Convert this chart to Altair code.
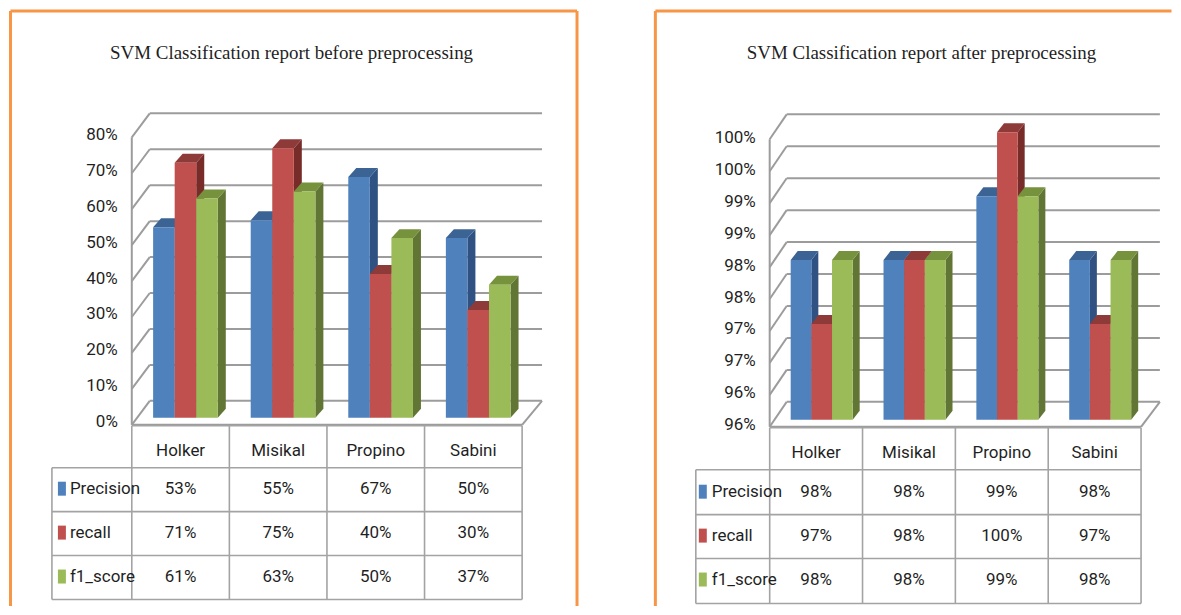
import altair as alt
import pandas as pd

categories = ["Holker", "Misikal", "Propino", "Sabini"]
series_names = ["Precision", "recall", "f1_score"]
before_precision = [53, 55, 67, 50]
before_recall = [71, 75, 40, 30]
before_f1 = [61, 63, 50, 37]
after_precision = [98, 98, 99, 98]
after_recall = [97, 98, 100, 97]
after_f1 = [98, 98, 99, 98]
before_ticks = [0, 10, 20, 30, 40, 50, 60, 70, 80]
before_tick_labels = ["0%", "10%", "20%", "30%", "40%", "50%", "60%", "70%", "80%"]
after_ticks = [95.5, 96, 96.5, 97, 97.5, 98, 98.5, 99, 99.5, 100]
after_tick_labels = ["96%", "96%", "97%", "97%", "98%", "98%", "99%", "99%", "100%", "100%"]
front_colors = ["#4F81BD", "#C0504D", "#9BBB59"]
top_colors = ["#3B6494", "#8E3A38", "#76923C"]
side_colors = ["#2F5283", "#772C2A", "#617534"]

SANS = "Roboto, Liberation Sans, sans-serif"
SERIF = "Liberation Serif, serif"
ORANGE = "#F79646"
GRID = "#9C9C9C"
TABLE = "#A3A3A3"
INK = "#1F1F1F"
TOP_ABS, BOTTOM_ABS = 8, 607


def panel(title, title_cx, series, ticks, tick_labels, g):
    # g holds geometry in page pixels; X/Y convert it to data units of the shared scales
    X = lambda a: (a - g["wall_l"]) / g["step"] - 0.5
    Y = lambda a: g["vmin"] + (g["base"] - a) / g["ppu"]
    dx_d, dy_d = g["dx"] / g["step"], g["dy"] / g["ppu"]
    xs = alt.Scale(domain=[X(g["abs_l"]), X(g["abs_r"])], range=[0, g["abs_r"] - g["abs_l"]], nice=False, zero=False)
    ys = alt.Scale(domain=[Y(BOTTOM_ABS), Y(TOP_ABS)], range=[BOTTOM_ABS - TOP_ABS, 0], nice=False, zero=False)
    xq = lambda f: alt.X(f, type="quantitative", scale=xs, axis=None)
    yq = lambda f: alt.Y(f, type="quantitative", scale=ys, axis=None)
    x2 = lambda f: alt.X2(f)
    y2 = lambda f: alt.Y2(f)

    def rules(rows, color, width):
        df = pd.DataFrame(rows, columns=["x", "x2", "y", "y2"])
        return alt.Chart(df).mark_rule(color=color, strokeWidth=width).encode(
            x=xq("x"), x2=x2("x2"), y=yq("y"), y2=y2("y2"))

    def text(rows, size, align="center", font=SANS):
        df = pd.DataFrame(rows, columns=["x", "y", "t"])
        return alt.Chart(df).mark_text(fontSize=size, font=font, align=align, baseline="middle", color=INK).encode(
            x=xq("x"), y=yq("y"), text="t:N")

    layers = []
    # orange frame (kept 1.5 px inside the panel, since a stroke beyond it would enlarge the page)
    frame_b = Y(BOTTOM_ABS - 1.5)
    frame = [[X(g["frame_l"]), X(g["frame_r"]), Y(g["frame_t"]), Y(g["frame_t"])],
             [X(g["frame_l"]), X(g["frame_l"]), Y(g["frame_t"]), frame_b]]
    if g["frame_r_side"]:
        frame.append([X(g["frame_r"]), X(g["frame_r"]), Y(g["frame_t"]), frame_b])
    layers.append(rules(frame, ORANGE, 3))

    # title
    layers.append(text([[X(title_cx), Y(g["title_y"]), title]], g["title_size"], font=SERIF))

    # walls and floor
    vtop = g["vmin"] + g["n_int"] * g["int_v"]
    back_dx, back_dy = (g["back_l"] - g["wall_l"]) / g["step"], (g["base"] - g["back_0"]) / g["ppu"]
    front_dy = (g["front_0"] - g["base"]) / g["ppu"]
    xl, xr = -0.5, len(categories) - 0.5
    grid = []
    for v in ticks:
        grid.append([xl, xl + back_dx, v - front_dy, v + back_dy])
        grid.append([xl + back_dx, xr + back_dx + 0.02, v + back_dy, v + back_dy])
    grid.append([xl, xl, g["vmin"] - front_dy, vtop - front_dy])
    grid.append([xl, xr, g["vmin"] - front_dy, g["vmin"] - front_dy])
    grid.append([xr, xr + back_dx + 0.02, g["vmin"] - front_dy, g["vmin"] + back_dy])
    layers.append(rules(grid, GRID, 2))

    # bars: side, top, front for each series so later series hide earlier sides
    bw = g["bar_w"] / g["step"]
    for s, vals in enumerate(series):
        rows = []
        for i, v in enumerate(vals):
            left = i + g["bar_shift"] + (s - 1.5) * bw
            rows.append(dict(cat=categories[i], l=left, r=left + bw, l_b=left + dx_d, r_b=left + bw + dx_d,
                             base=g["vmin"], base_b=g["vmin"] + dy_d, v=v, v_b=v + dy_d))
        df = pd.DataFrame(rows)
        side = []
        for r in rows:
            side.append(dict(cat=r["cat"], x=r["r"], lo=r["base"], hi=r["v"]))
            side.append(dict(cat=r["cat"], x=r["r_b"], lo=r["base_b"], hi=r["v_b"]))
        layers.append(alt.Chart(pd.DataFrame(side)).mark_area(orient="vertical", color=side_colors[s]).encode(
            x=xq("x"), y=yq("hi"), y2=y2("lo"), detail="cat:N"))
        top = []
        for r in rows:
            top.append(dict(cat=r["cat"], y=r["v"], a=r["l"], b=r["r"]))
            top.append(dict(cat=r["cat"], y=r["v_b"], a=r["l_b"], b=r["r_b"]))
        layers.append(alt.Chart(pd.DataFrame(top)).mark_area(orient="horizontal", color=top_colors[s]).encode(
            y=yq("y"), x=xq("a"), x2=x2("b"), detail="cat:N"))
        layers.append(alt.Chart(df).mark_rect(color=front_colors[s]).encode(
            x=xq("l"), x2=x2("r"), y=yq("base"), y2=y2("v")))

    # value-axis labels
    layers.append(text([[X(g["tick_r"]), v - g["tick_dy"] / g["ppu"], t] for v, t in zip(ticks, tick_labels)],
                       g["font"], align="right"))

    # data table
    t_top, rows_y = g["table_top"], g["table_rows"]
    tl = X(g["table_l"])
    lines = [[xl, xr, Y(t_top), Y(t_top)]]
    for n, ya in enumerate(rows_y):
        lines.append([tl, xr, Y(ya), Y(ya)])
    for i in range(len(categories) + 1):
        lines.append([xl + i, xl + i, Y(t_top), Y(rows_y[-1])])
    lines.append([tl, tl, Y(rows_y[0]), Y(rows_y[-1])])
    layers.append(rules(lines, TABLE, 1.6))

    cells = [[i, Y(g["head_y"]), c] for i, c in enumerate(categories)]
    for s, vals in enumerate(series):
        for i, v in enumerate(vals):
            cells.append([i, Y(g["cell_y"][s]), f"{v}%"])
    layers.append(text(cells, g["font"]))
    layers.append(text([[X(g["name_x"]), Y(g["cell_y"][s]), n] for s, n in enumerate(series_names)],
                       g["font"], align="left"))
    for s in range(3):
        key = pd.DataFrame([dict(x=X(g["key_x"]), x2=X(g["key_x"] + 8),
                                 y=Y(g["cell_y"][s] - 7), y2=Y(g["cell_y"][s] + 7))])
        layers.append(alt.Chart(key).mark_rect(color=front_colors[s]).encode(
            x=xq("x"), x2=x2("x2"), y=yq("y"), y2=y2("y2")))

    return alt.layer(*layers).properties(width=g["abs_r"] - g["abs_l"], height=BOTTOM_ABS - TOP_ABS)


left_geom = dict(abs_l=8, abs_r=653, wall_l=131, step=97.75, base=417, ppu=3.6, vmin=0, n_int=8, int_v=10,
                 back_l=149, back_0=400, front_0=424, dx=8, dy=9, bar_w=21.6, bar_shift=0.05,
                 frame_l=9.5, frame_r=577, frame_t=9.5, frame_r_side=True, title_y=52, title_size=19,
                 tick_r=117, tick_dy=4.5, font=17, table_top=425, table_rows=[467, 511, 555, 599],
                 table_l=51, head_y=450, cell_y=[488, 532, 576], name_x=69, key_x=57)
right_geom = dict(abs_l=653, abs_r=1173, wall_l=769, step=93, base=419, ppu=64, vmin=95.5, n_int=9, int_v=0.5,
                  back_l=786, back_0=401, front_0=426, dx=7, dy=9, bar_w=20.7, bar_shift=0.06,
                  frame_l=654.5, frame_r=1171.5, frame_t=9.5, frame_r_side=False, title_y=52, title_size=19,
                  tick_r=755, tick_dy=5.5, font=17, table_top=427, table_rows=[469, 514, 558, 603],
                  table_l=695, head_y=452, cell_y=[491, 535, 579], name_x=711, key_x=698)

chart_l = panel("SVM Classification report before preprocessing", 291,
                [before_precision, before_recall, before_f1], before_ticks, before_tick_labels, left_geom)
chart_r = panel("SVM Classification report after preprocessing", 921,
                [after_precision, after_recall, after_f1], after_ticks, after_tick_labels, right_geom)

chart = alt.hconcat(chart_l, chart_r, spacing=0).properties(padding=0).configure_view(stroke=None)
chart.save("out.html", embed_options={"renderer": "svg", "actions": False})
